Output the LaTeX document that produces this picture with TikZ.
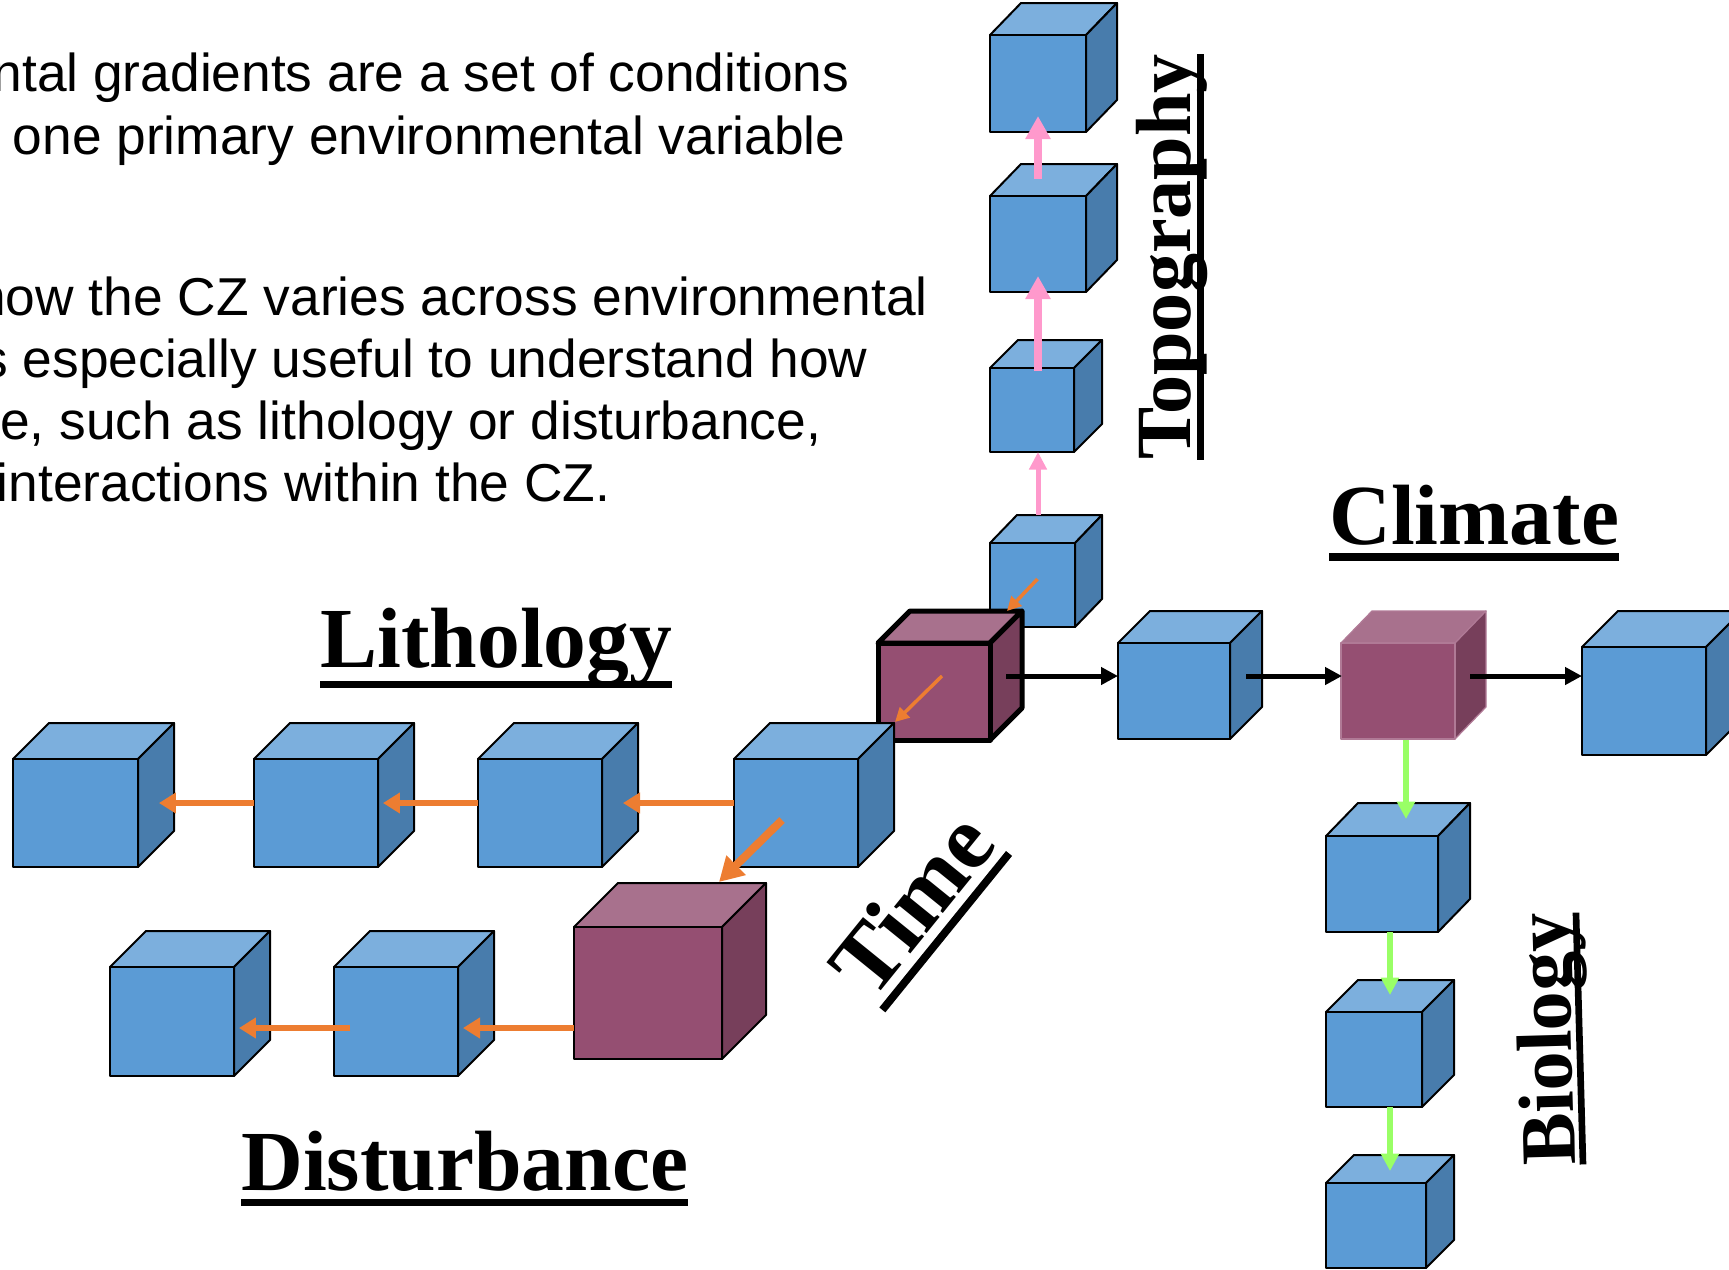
\documentclass[tikz,border=0pt]{standalone}
\usepackage{fontspec}
\setmainfont{Liberation Serif}
\newfontfamily\arialfont{Liberation Sans}
\usetikzlibrary{arrows.meta}

\definecolor{bfront}{HTML}{5B9BD5}
\definecolor{btop}{HTML}{7CAFDD}
\definecolor{bside}{HTML}{487CAC}
\definecolor{pfront}{HTML}{954F72}
\definecolor{ptop}{HTML}{A8718D}
\definecolor{pside}{HTML}{773F5B}
\colorlet{kfront}{pfront}\colorlet{ktop}{ptop}\colorlet{kside}{pside}
\colorlet{cfront}{pfront}\colorlet{ctop}{ptop}\colorlet{cside}{pside}
\definecolor{pedge}{HTML}{B07A96}
\definecolor{orangeA}{HTML}{ED7D31}
\definecolor{pinkA}{HTML}{FF99CC}
\definecolor{greenA}{HTML}{99FF66}

% underlined label: [gap below baseline]{text}
\newcommand\ulabel[2][0.11em]{\setbox0=\hbox{#2}\vtop{\copy0\kern\dimexpr#1-\dp0\relax\hrule height0.085em}}

% cube: [style prefix]{name}{x1}{y1}{x2}{y2}{dx}{dy}
\newcommand\cubeat[8][b]{%
  \filldraw[#1face, fill=#1top] (#3,#4) -- ({#3+#7},{#4-#8}) -- ({#5+#7},{#4-#8}) -- (#5,#4) -- cycle;
  \filldraw[#1face, fill=#1side] (#5,#4) -- ({#5+#7},{#4-#8}) -- ({#5+#7},{#6-#8}) -- (#5,#6) -- cycle;
  \filldraw[#1face, fill=#1front] (#3,#4) rectangle (#5,#6);
  \coordinate (#2) at ({(#3+#5)/2},{(#4+#6)/2});
}

\tikzset{
  bface/.style={draw=black, line width=0.04cm, line join=round},
  pface/.style={draw=black, line width=0.04cm, line join=round},
  kface/.style={draw=black, line width=0.1cm, line join=round},
  cface/.style={draw=pedge, line width=0.025cm, line join=round},
  orarrow/.style={draw=orangeA, line width=0.12cm, -{Triangle[length=0.34cm,width=0.4cm]}},
  oradiag/.style={draw=orangeA, line width=0.16cm, -{Triangle[length=0.48cm,width=0.52cm]}},
  orsmall/.style={draw=orangeA, line width=0.07cm, -{Triangle[length=0.28cm,width=0.28cm]}},
  blkarrow/.style={draw=black, line width=0.1cm, -{Triangle[length=0.34cm,width=0.34cm]}},
  pinkthick/.style={draw=pinkA, line width=0.16cm, -{Triangle[length=0.46cm,width=0.48cm]}},
  pinkthin/.style={draw=pinkA, line width=0.1cm, -{Triangle[length=0.35cm,width=0.34cm]}},
  grnarrow/.style={draw=greenA, line width=0.12cm, -{Triangle[length=0.35cm,width=0.35cm]}},
  lab/.style={inner sep=0pt, font=\fontsize{48.7}{56}\selectfont\bfseries},
  timelab/.style={inner sep=0pt, font=\fontsize{52}{60}\selectfont\bfseries},
  vlab/.style={inner sep=0pt, font=\fontsize{44.5}{52}\selectfont\bfseries},
  para/.style={inner sep=0pt, font=\arialfont\fontsize{30.35}{36}\selectfont},
}

\begin{document}
\begin{tikzpicture}[x=0.02cm, y=-0.02cm]
\useasboundingbox (0,0) rectangle (1729,1269);
\clip (0,0) rectangle (1729,1269);

% paragraph text (cut at left edge)
\node[para, anchor=base east] (t1) at (849.6,91) {ntal gradients are a set of conditions};
\node[para, anchor=base east] (t2) at (846,154) {one primary environmental variable};
\node[para, anchor=base east] (t3) at (928,315) {how the CZ varies across environmental};
\node[para, anchor=base east] (t4) at (868,377) {s especially useful to understand how};
\node[para, anchor=base east] (t5) at (821.5,439) {e, such as lithology or disturbance,};
\node[para, anchor=base east] (t6) at (610.7,501) {interactions within the CZ.};

% cubes
\cubeat{T4}{990}{35}{1086}{132}{31}{32}
\cubeat{T3}{990}{196}{1086}{292}{31}{32}
\cubeat{T2}{990}{368}{1074}{452}{28}{28}
\cubeat{T1}{990}{543}{1075}{627}{27}{28}
\cubeat[k]{C0}{878}{643}{990}{740}{32}{32}
\cubeat{L4}{734}{759}{858}{867}{36}{36}
\cubeat{L3}{478}{759}{602}{867}{36}{36}
\cubeat{L2}{254}{759}{378}{867}{36}{36}
\cubeat{L1}{13}{759}{138}{867}{36}{36}
\cubeat[p]{D3}{574}{927}{722}{1059}{44}{44}
\cubeat{D2}{334}{967}{458}{1076}{36}{36}
\cubeat{D1}{110}{967}{234}{1076}{36}{36}
\cubeat{R1}{1118}{643}{1230}{739}{32}{32}
\cubeat[c]{C1}{1341}{643}{1455}{739}{31}{32}
\cubeat{R2}{1582}{647}{1706}{755}{36}{36}
\cubeat{B1}{1326}{836}{1438}{932}{32}{33}
\cubeat{B2}{1326}{1012}{1422}{1107}{32}{32}
\cubeat{B3}{1326}{1183}{1426}{1268}{28}{28}

% connector end points
\coordinate (T1n) at (1038,515);  \coordinate (T2s) at (1038,452);
\coordinate (T2n) at (1038,371);  \coordinate (T3s) at (1038,276);
\coordinate (T3n) at (1038,179);  \coordinate (T4s) at (1038,116);
\coordinate (T1w) at (1037.5,579); \coordinate (C0n) at (1007,611);
\coordinate (C0i) at (942,676);   \coordinate (L4ne) at (895,722);
\coordinate (L4w) at (734,803);   \coordinate (L3e) at (623,803);
\coordinate (L3w) at (478,803);   \coordinate (L2e) at (383,803);
\coordinate (L2w) at (254,803);   \coordinate (L1e) at (159,803);
\coordinate (L4i) at (782,820);   \coordinate (D3n) at (719,882);
\coordinate (D3w) at (574,1028);  \coordinate (D2e) at (463,1028);
\coordinate (D2i) at (350,1028);  \coordinate (D1e) at (239,1028);
\coordinate (C0e) at (1006,676);  \coordinate (R1w) at (1118,676);
\coordinate (R1e) at (1246,676);  \coordinate (C1w) at (1342,676);
\coordinate (C1e) at (1470,676);  \coordinate (R2w) at (1582,676);
\coordinate (C1s) at (1406,740);  \coordinate (B1n) at (1406,819);
\coordinate (B1s) at (1390,932);  \coordinate (B2n) at (1390,995);
\coordinate (B2s) at (1390,1107); \coordinate (B3n) at (1390,1171);

% connectors
\draw[pinkthin] (T1n) -- (T2s);
\draw[pinkthick] (T2n) -- (T3s);
\draw[pinkthick] (T3n) -- (T4s);
\draw[orsmall] (T1w) -- (C0n);
\draw[orsmall] (C0i) -- (L4ne);
\draw[orarrow] (L4w) -- (L3e);
\draw[orarrow] (L3w) -- (L2e);
\draw[orarrow] (L2w) -- (L1e);
\draw[oradiag] (L4i) -- (D3n);
\draw[orarrow] (D3w) -- (D2e);
\draw[orarrow] (D2i) -- (D1e);
\draw[blkarrow] (C0e) -- (R1w);
\draw[blkarrow] (R1e) -- (C1w);
\draw[blkarrow] (C1e) -- (R2w);
\draw[grnarrow] (C1s) -- (B1n);
\draw[grnarrow] (B1s) -- (B2n);
\draw[grnarrow] (B2s) -- (B3n);

% labels
\node[lab, anchor=base west] (lith) at (320,667) {\ulabel[0.16em]{Lithology}};
\node[lab, anchor=base west] (dist) at (241,1190) {\ulabel[0.1em]{Disturbance}};
\node[lab, anchor=base west] (clim) at (1329,544) {\ulabel{Climate}};
\node[timelab, rotate=51, anchor=base west] (time) at (872,1002) {\ulabel[0.1em]{Time}};
\node[vlab, rotate=90, anchor=base west] (topo) at (1190,460) {\ulabel[0.09em]{Topography}};
\node[vlab, rotate=91.6, anchor=base west] (bio) at (1575,1165) {\ulabel[0.06em]{Biology}};
\end{tikzpicture}
\end{document}
